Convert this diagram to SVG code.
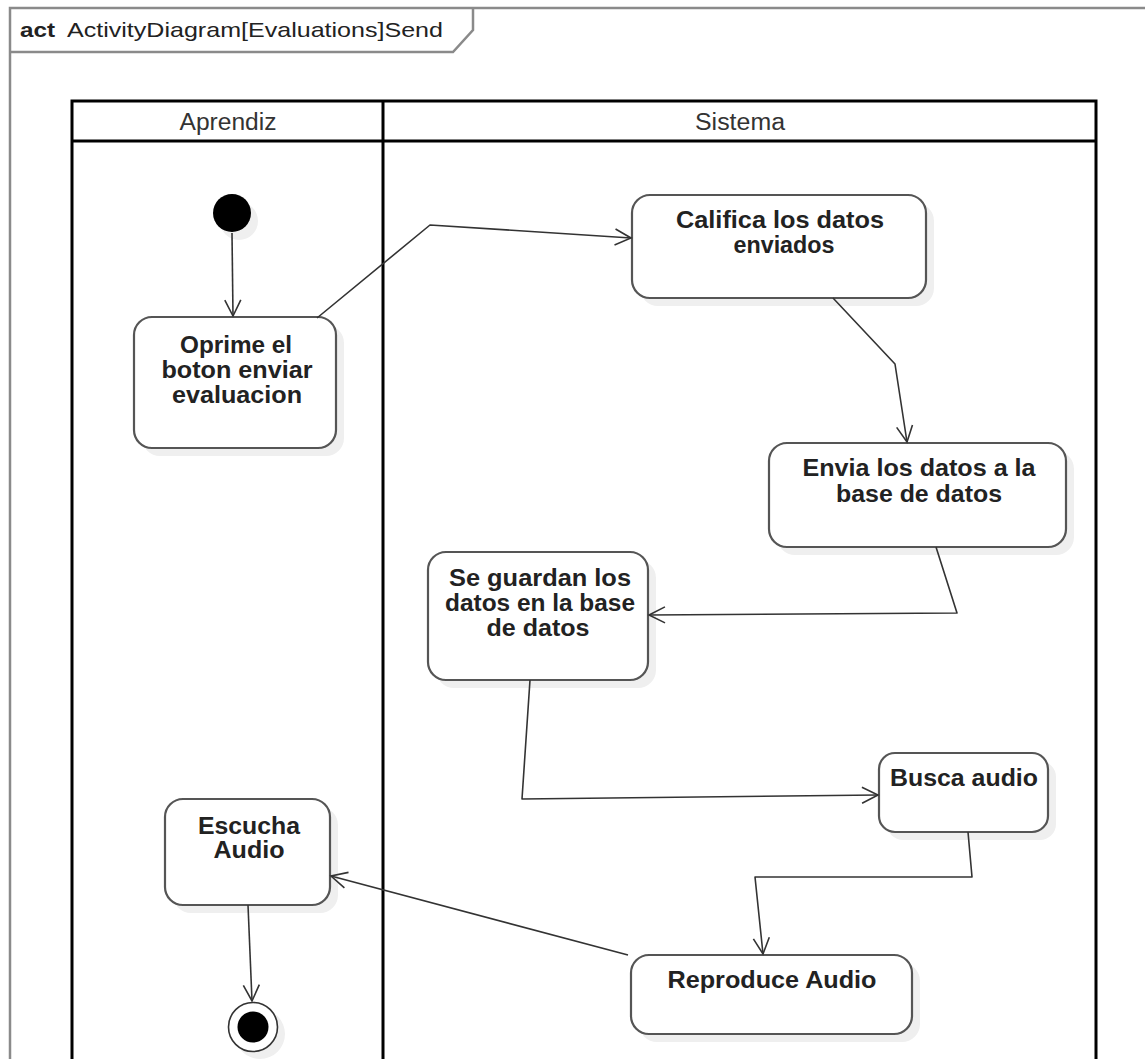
<svg xmlns="http://www.w3.org/2000/svg" width="1145" height="1059" viewBox="0 0 1145 1059">
<style>
.frame{fill:none;stroke:#8a8a8a;stroke-width:2.5}
.lane{fill:none;stroke:#000;stroke-width:3}
.hdr{font-family:"Liberation Sans",Arial,sans-serif;font-size:23px;fill:#333;text-anchor:middle}
.title{font-family:"Liberation Sans",Arial,sans-serif;font-size:21px;fill:#222}
.shadow{fill:#efefef;stroke:none}
.act{fill:#fff;stroke:#555;stroke-width:2.2}
.lbl{font-family:"Liberation Sans",Arial,sans-serif;font-size:23px;font-weight:bold;fill:#222;text-anchor:middle}
.conn{fill:none;stroke:#333;stroke-width:1.6;stroke-linejoin:round}
</style>
<defs>
<marker id="arr" markerWidth="22" markerHeight="22" refX="17" refY="9" orient="auto" markerUnits="userSpaceOnUse">
<path d="M1,1 L17,9 L1,17" fill="none" stroke="#333" stroke-width="1.6"/>
</marker>
</defs>
<rect width="1145" height="1059" fill="#fff"/>
<g id="frame">
<path class="frame" d="M10,1059 L10,8 L1145,8"/>
<path class="frame" d="M10,52 L453,52 L473,30 L473,8"/>
<text class="title" x="20" y="37"><tspan font-weight="bold" textLength="35" lengthAdjust="spacingAndGlyphs">act</tspan></text>
<text class="title" x="67" y="37" textLength="376" lengthAdjust="spacingAndGlyphs">ActivityDiagram[Evaluations]Send</text>
</g>
<g id="swimlanes">
<path class="lane" d="M72,1062 L72,101 L1096,101 L1096,1062"/>
<line class="lane" x1="72" y1="141" x2="1096" y2="141"/>
<line class="lane" x1="383" y1="101" x2="383" y2="1062"/>
<text class="hdr" x="228" y="130" textLength="97" lengthAdjust="spacingAndGlyphs">Aprendiz</text>
<text class="hdr" x="740" y="130" textLength="90" lengthAdjust="spacingAndGlyphs">Sistema</text>
</g>
<g id="initial">
<circle class="shadow" cx="239" cy="221" r="19"/>
<circle cx="232" cy="213" r="19" fill="#000"/>
</g>
<g id="oprime">
<rect class="shadow" x="142" y="325" width="202" height="131" rx="18"/>
<rect class="act" x="134" y="317" width="202" height="131" rx="18"/>
<text class="lbl" x="236" y="353" textLength="112" lengthAdjust="spacingAndGlyphs">Oprime el</text>
<text class="lbl" x="237" y="378" textLength="151" lengthAdjust="spacingAndGlyphs">boton enviar</text>
<text class="lbl" x="237" y="403" textLength="130" lengthAdjust="spacingAndGlyphs">evaluacion</text>
</g>
<g id="califica">
<rect class="shadow" x="640" y="203" width="294" height="103" rx="18"/>
<rect class="act" x="632" y="195" width="294" height="103" rx="18"/>
<text class="lbl" x="780" y="228" textLength="208" lengthAdjust="spacingAndGlyphs">Califica los datos</text>
<text class="lbl" x="784" y="253" textLength="101" lengthAdjust="spacingAndGlyphs">enviados</text>
</g>
<g id="envia">
<rect class="shadow" x="777" y="451" width="297" height="104" rx="18"/>
<rect class="act" x="769" y="443" width="297" height="104" rx="18"/>
<text class="lbl" x="919" y="476" textLength="233" lengthAdjust="spacingAndGlyphs">Envia los datos a la</text>
<text class="lbl" x="919" y="502" textLength="166" lengthAdjust="spacingAndGlyphs">base de datos</text>
</g>
<g id="guardan">
<rect class="shadow" x="436" y="560" width="220" height="128" rx="18"/>
<rect class="act" x="428" y="552" width="220" height="128" rx="18"/>
<text class="lbl" x="540" y="586" textLength="182" lengthAdjust="spacingAndGlyphs">Se guardan los</text>
<text class="lbl" x="540" y="611" textLength="190" lengthAdjust="spacingAndGlyphs">datos en la base</text>
<text class="lbl" x="538" y="636" textLength="103" lengthAdjust="spacingAndGlyphs">de datos</text>
</g>
<g id="busca">
<rect class="shadow" x="887" y="761" width="169" height="79" rx="16"/>
<rect class="act" x="879" y="753" width="169" height="79" rx="16"/>
<text class="lbl" x="964" y="786" textLength="148" lengthAdjust="spacingAndGlyphs">Busca audio</text>
</g>
<g id="reproduce">
<rect class="shadow" x="639" y="963" width="281" height="79" rx="18"/>
<rect class="act" x="631" y="955" width="281" height="79" rx="18"/>
<text class="lbl" x="772" y="988" textLength="209" lengthAdjust="spacingAndGlyphs">Reproduce Audio</text>
</g>
<g id="escucha">
<rect class="shadow" x="173" y="807" width="165" height="106" rx="18"/>
<rect class="act" x="165" y="799" width="165" height="106" rx="18"/>
<text class="lbl" x="249" y="834" textLength="102" lengthAdjust="spacingAndGlyphs">Escucha</text>
<text class="lbl" x="249" y="858" textLength="71" lengthAdjust="spacingAndGlyphs">Audio</text>
</g>
<g id="final">
<circle class="shadow" cx="260" cy="1034" r="25"/>
<circle cx="253" cy="1027" r="24.5" fill="#fff" stroke="#333" stroke-width="1.6"/>
<circle cx="253" cy="1027" r="15.5" fill="#000"/>
</g>
<g id="connectors">
<path class="conn" d="M232,233 L233,316" marker-end="url(#arr)"/>
<path class="conn" d="M317,318 L430,225 L631,238" marker-end="url(#arr)"/>
<path class="conn" d="M833,298 L895,364 L907,442" marker-end="url(#arr)"/>
<path class="conn" d="M936,547 L957,613 L649,615" marker-end="url(#arr)"/>
<path class="conn" d="M530,680 L522,799 L878,795" marker-end="url(#arr)"/>
<path class="conn" d="M968,832 L972,877 L755,877 L763,954" marker-end="url(#arr)"/>
<path class="conn" d="M628,955 L331,876" marker-end="url(#arr)"/>
<path class="conn" d="M248,905 L252,1001" marker-end="url(#arr)"/>
</g>
</svg>
